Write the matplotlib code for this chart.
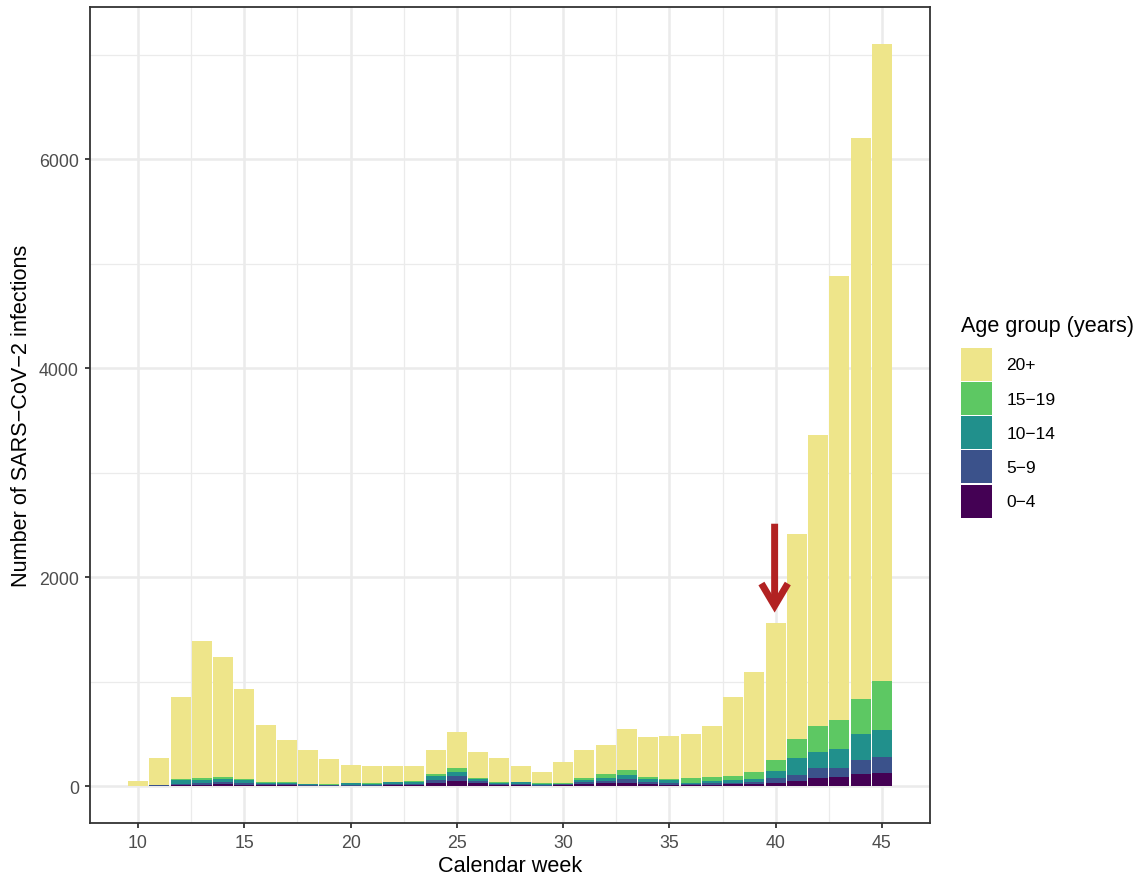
import numpy as np
import matplotlib
matplotlib.use("Agg")
import matplotlib.pyplot as plt
from matplotlib.patches import Patch

plt.rcParams['font.family'] = ['Liberation Sans', 'DejaVu Sans']

weeks = list(range(10, 46))

# cases per age group and calendar week
age_0_4 = [0, 2, 10, 13, 16, 10, 6, 6, 3, 3, 3, 3, 6, 10, 32, 48, 26, 10, 13, 3,
           10, 19, 29, 29, 22, 13, 6, 13, 16, 19, 32, 51, 80, 86, 112, 121]
age_5_9 = [0, 3, 12, 16, 19, 19, 13, 10, 7, 3, 10, 7, 10, 12, 29, 45, 22, 9, 9, 7,
           6, 19, 22, 35, 19, 16, 10, 16, 16, 16, 45, 51, 89, 83, 140, 160]
age_10_14 = [0, 4, 35, 25, 29, 28, 13, 13, 6, 7, 13, 12, 19, 19, 35, 38, 16, 10, 13, 12,
             6, 16, 29, 38, 23, 25, 13, 16, 25, 29, 63, 163, 160, 188, 242, 252]
age_15_19 = [0, 3, 10, 23, 22, 10, 9, 9, 6, 6, 6, 7, 6, 10, 22, 44, 9, 9, 6, 10,
             7, 23, 35, 48, 22, 13, 48, 38, 39, 67, 112, 185, 248, 278, 335, 475]
age_20plus = [50, 256, 785, 1311, 1149, 861, 543, 402, 323, 239, 168, 162, 150, 140, 227, 342, 252, 230, 150, 102,
              201, 268, 277, 395, 383, 411, 421, 491, 756, 960, 1308, 1962, 2783, 4245, 5371, 6092]

groups = ["0\u22124", "5\u22129", "10\u221214", "15\u221219", "20+"]
series = [age_0_4, age_5_9, age_10_14, age_15_19, age_20plus]
colors = ["#440154", "#3B528B", "#21908C", "#5DC863", "#EEE58A"]

# arrow marking week 40
arrow_week = 40
arrow_from = 2510
arrow_to = 1660

fig = plt.figure(figsize=(11.41, 8.78), dpi=100)
ax = fig.add_axes([90 / 1141, 1 - 824 / 878, 840 / 1141, 816 / 878])

bottom = np.zeros(len(weeks))
for vals, col in zip(series, colors):
    ax.bar(weeks, vals, width=0.94, bottom=bottom, color=col,
           linewidth=0, zorder=3)
    bottom += np.array(vals)

ax.annotate("", xy=(arrow_week - 0.05, arrow_to), xytext=(arrow_week - 0.05, arrow_from),
            arrowprops=dict(arrowstyle="->,head_width=0.95,head_length=1.6",
                            color="#B22222", lw=5, shrinkA=0, shrinkB=0,
                            joinstyle="miter", capstyle="butt"), zorder=5)

ax.set_xlim(7.74, 47.26)
ax.set_ylim(-354, 7455)
ax.set_xticks(range(10, 46, 5))
ax.set_yticks([0, 2000, 4000, 6000])
ax.set_xticks(np.arange(12.5, 47, 5), minor=True)
ax.set_yticks([1000, 3000, 5000, 7000], minor=True)
ax.grid(which="major", color="#EBEBEB", linewidth=1.8, zorder=0)
ax.grid(which="minor", color="#EBEBEB", linewidth=0.9, zorder=0)
ax.set_axisbelow(True)

for s in ax.spines.values():
    s.set_color("#333333")
    s.set_linewidth(1.3)

ax.tick_params(which="major", length=3.5, width=1.3, color="#333333",
               labelsize=12.8, labelcolor="#4D4D4D", pad=4.5)
ax.tick_params(which="minor", length=0)

ax.set_xlabel("Calendar week", fontsize=15.6, labelpad=3)
ax.set_ylabel("Number of SARS\u2212CoV\u22122 infections", fontsize=15.6, labelpad=5)

handles = [Patch(facecolor=c, edgecolor="none", label=g)
           for g, c in zip(groups[::-1], colors[::-1])]
leg = fig.legend(handles=handles, title="Age group (years)", loc="upper left",
                 bbox_to_anchor=(958 / 1141, 1 - 313 / 878), frameon=False,
                 fontsize=12.5, title_fontsize=15.6, handlelength=1.73, handleheight=2.55,
                 labelspacing=0.07, handletextpad=0.85, borderaxespad=0,
                 borderpad=0.2)
leg._legend_box.align = "left"
leg._legend_box.sep = 8

fig.savefig("out.png", dpi=100)
